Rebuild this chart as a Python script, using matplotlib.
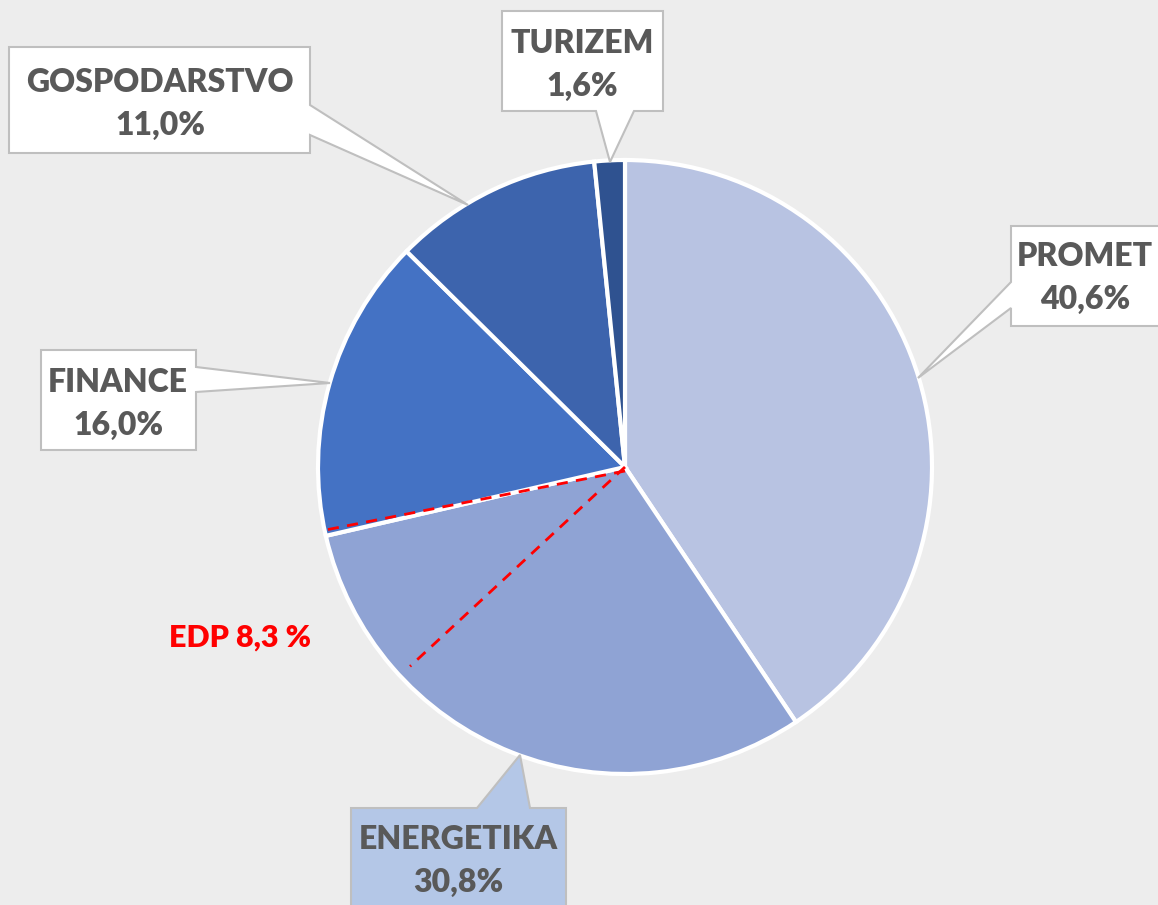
import numpy
import matplotlib
matplotlib.use("Agg")
import matplotlib.pyplot as plt
from matplotlib.patches import Polygon

sectors = ["PROMET", "ENERGETIKA", "FINANCE", "GOSPODARSTVO", "TURIZEM"]
shares = [40.6, 30.8, 16.0, 11.0, 1.6]
slice_colors = ["#B8C3E2", "#8FA3D4", "#4472C4", "#3D64AD", "#2F5290"]
edp_share = 8.3
edp_label = "EDP 8,3 %"

WIDTH = 1158
HEIGHT = 905


def flip(y_pixel):
    return HEIGHT - y_pixel


def share_label(name, value):
    return name + "\n" + f"{value:.1f}".replace(".", ",") + "%"


def callout_outline(box, tip, side, base_from, base_to):
    left, top, right, bottom = box
    if side == "right":
        points = [(left, top), (right, top), (right, base_from), tip,
                  (right, base_to), (right, bottom), (left, bottom)]
    elif side == "left":
        points = [(left, top), (right, top), (right, bottom), (left, bottom),
                  (left, base_to), tip, (left, base_from)]
    elif side == "bottom":
        points = [(left, top), (right, top), (right, bottom), (base_to, bottom),
                  tip, (base_from, bottom), (left, bottom)]
    else:
        points = [(left, top), (base_from, top), tip, (base_to, top),
                  (right, top), (right, bottom), (left, bottom)]
    return [(x, flip(y)) for x, y in points]


def point_on_circle(center_x, center_y, radius, fraction, reach=1.0):
    angle = numpy.radians(90 - 360 * fraction)
    return (center_x + reach * radius * numpy.cos(angle),
            center_y + reach * radius * numpy.sin(angle))


plt.rcParams["font.family"] = ["Lato", "DejaVu Sans"]

fig = plt.figure(figsize=(WIDTH / 100, HEIGHT / 100), dpi=100)
fig.patch.set_facecolor("#EDEDED")
ax = fig.add_axes([0, 0, 1, 1])
ax.set_facecolor("#EDEDED")

center_x, center_y = 625, flip(467)
radius = 307

ax.pie(shares, colors=slice_colors, startangle=90, counterclock=False,
       center=(center_x, center_y), radius=radius, frame=False,
       wedgeprops={"edgecolor": "white", "linewidth": 3})

ax.set_xlim(0, WIDTH)
ax.set_ylim(0, HEIGHT)
ax.set_aspect("equal")
ax.axis("off")

# EDP part of the ENERGETIKA slice
energetika_end = (shares[0] + shares[1]) / 100
edp_start = energetika_end - edp_share / 100
end_x, end_y = point_on_circle(center_x, center_y, radius, energetika_end + 0.003)
ax.plot([center_x, end_x], [center_y - 4, end_y], color="red", linewidth=2, dashes=(4, 3))
start_x, start_y = point_on_circle(center_x, center_y, radius, edp_start, reach=0.955)
ax.plot([center_x, start_x], [center_y, start_y], color="red", linewidth=2, dashes=(4, 3))
ax.text(240, flip(638), edp_label, color="#FF0000", fontsize=22, fontweight="heavy",
        ha="center", va="center")

# callouts: box (left, top, right, bottom), tip, side, base range, text centre, fill
callouts = [
    ((1011, 226, 1170, 326), (918, 378), "left", 282, 308, (1085, 278), "white"),
    ((351, 808, 566, 920), (520, 755), "top", 477, 530, (458, 861), "#B4C7E7"),
    ((41, 350, 196, 450), (330, 383), "right", 367, 392, (118, 404), "white"),
    ((9, 47, 310, 153), (468, 205), "right", 105, 135, (160, 104), "white"),
    ((502, 11, 663, 111), (610, 162), "bottom", 596, 634, (582, 65), "white"),
]

for index, (box, tip, side, base_from, base_to, text_center, fill) in enumerate(callouts):
    outline = callout_outline(box, tip, side, base_from, base_to)
    ax.add_patch(Polygon(outline, closed=True, facecolor=fill, edgecolor="#BFBFBF",
                         linewidth=1.5, zorder=5))
    ax.text(text_center[0], flip(text_center[1]), share_label(sectors[index], shares[index]),
            color="#595959", fontsize=23, fontweight="heavy", ha="center", va="center",
            linespacing=1.6, zorder=6)

fig.savefig("out.png", dpi=100, facecolor=fig.get_facecolor())
